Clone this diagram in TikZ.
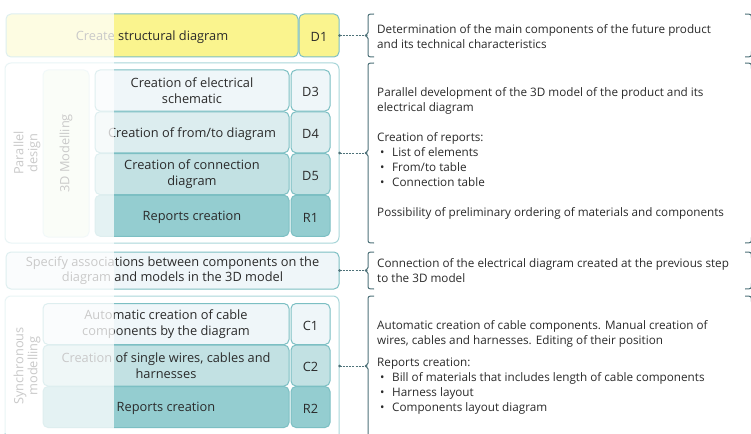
\documentclass[tikz,border=0pt]{standalone}
\usepackage{fontspec}
\setmainfont{Open Sans}
\definecolor{edge}{HTML}{7CBFC3}
\definecolor{grpedge}{HTML}{A9D6D9}
\definecolor{yel}{HTML}{FAF48E}
\definecolor{fa}{HTML}{EFF6F9}
\definecolor{fb}{HTML}{DCEDEF}
\definecolor{fc}{HTML}{C2E1E3}
\definecolor{fd}{HTML}{94CDD0}
\definecolor{grn}{HTML}{EFFAE4}
\definecolor{txt}{HTML}{2A2A2A}
\definecolor{brk}{HTML}{4F7279}
\newcommand\mybrL[3]{\draw[brkline] (374,#1) .. controls (368,#1) .. (368,{#1+5}) -- (368,{#3-3}) -- (366,#3) -- (368,{#3+3}) -- (368,{#2-5}) .. controls (368,#2) .. (374,#2);}
\newcommand\mybrR[2]{\draw[brkline] (745,#1) .. controls (751.5,#1) .. (751.5,{#1+6}) -- (751.5,{#2-6}) .. controls (751.5,#2) .. (745,#2);}
\begin{document}
\begin{tikzpicture}[x=1pt,y=-1pt,
  box/.style={draw=edge, line width=1pt, rounded corners=5pt, inner sep=0pt, text=txt, align=center, font=\fontsize{12.8}{15.5}\selectfont, execute at begin node={\rule{0pt}{12.6pt}}},
  grp/.style={draw=grpedge, line width=1pt, rounded corners=6pt, fill=white},
  lbl/.style={text=txt, align=center, rotate=90, font=\fontsize{12.8}{14}\selectfont},
  note/.style={anchor=west, align=left, text=txt, inner sep=0pt, font=\fontsize{11.7}{15}\selectfont},
  conn/.style={draw=brk, line width=0.8pt, dash pattern=on 2pt off 1.2pt},
  brkline/.style={draw=brk, line width=1pt},
  dot/.style={circle, fill=brk, inner sep=0pt, minimum size=3pt}]
\useasboundingbox (0,0) rectangle (751,433);
\begin{scope}
\clip (0,0) rectangle (751,433);
% row 1
\node[box, fill=yel, minimum width=292, minimum height=43] (d1main) at (152,35.5) {Create structural diagram};
\node[box, fill=yel, minimum width=40, minimum height=43] (d1) at (319,35.5) {D1};
% parallel design
\node[grp, minimum width=334, minimum height=180] (pgrp) at (172,153) {};
\node[lbl] (plbl) at (27,153) {Parallel\\design};
\node[box, draw=grpedge!60, fill=grn, minimum width=46, minimum height=167, execute at begin node={}] (m3d) at (66,153.5) {};
\node[lbl] (m3dl) at (66,153.5) {3D Modelling};
\node[box, fill=fa, minimum width=194, minimum height=41] (d3l) at (192,90.5) {Creation of electrical\\schematic};
\node[box, fill=fa, minimum width=39, minimum height=41] (d3) at (310.5,90.5) {D3};
\node[box, fill=fb, minimum width=194, minimum height=41] (d4l) at (192,132.25) {Creation of from/to diagram};
\node[box, fill=fb, minimum width=39, minimum height=41] (d4) at (310.5,132.25) {D4};
\node[box, fill=fc, minimum width=194, minimum height=41] (d5l) at (192,174) {Creation of connection\\diagram};
\node[box, fill=fc, minimum width=39, minimum height=41] (d5) at (310.5,174) {D5};
\node[box, fill=fd, minimum width=194, minimum height=41] (r1l) at (192,215.75) {Reports creation};
\node[box, fill=fd, minimum width=39, minimum height=41] (r1) at (310.5,215.75) {R1};
% specify
\node[box, fill=fa, minimum width=333, minimum height=37] (spec) at (172.5,270.5) {Specify associations between components on the\\diagram and models in the 3D model};
% synchronous
\node[grp, minimum width=334, minimum height=150] (sgrp) at (172,371) {};
\node[lbl] (slbl) at (27,366) {Synchronous\\modelling};
\node[box, fill=fa, minimum width=246, minimum height=41] (c1l) at (166,324) {Automatic creation of cable\\components by the diagram};
\node[box, fill=fa, minimum width=39, minimum height=41] (c1) at (310.5,324) {C1};
\node[box, fill=fc, minimum width=246, minimum height=41] (c2l) at (166,365.5) {Creation of single wires, cables and\\harnesses};
\node[box, fill=fc, minimum width=39, minimum height=41] (c2) at (310.5,365.5) {C2};
\node[box, fill=fd, minimum width=246, minimum height=41] (r2l) at (166,407) {Reports creation};
\node[box, fill=fd, minimum width=39, minimum height=41] (r2) at (310.5,407) {R2};
% fade overlay
\fill[white, fill opacity=0.75] (0,0) rectangle (114,433);
% brackets
\mybrL{14}{57}{35.5}
\mybrL{63}{243}{153}
\mybrL{252}{289}{270.5}
\mybrL{296}{445}{366}
\mybrR{14}{57}
\mybrR{63}{243}
\mybrR{252}{289}
\mybrR{296}{445}
\coordinate (b1) at (366,35.5);
\coordinate (b2) at (366,153);
\coordinate (b3) at (366,270.5);
\coordinate (b4) at (366,366);
\draw[conn] (d1.east) -- (b1);
\draw[conn] (pgrp.east) -- (b2);
\draw[conn] (spec.east) -- (b3);
\draw[conn] (sgrp.east |- b4) -- (b4);
\node[dot] at (d1.east) {};
\node[dot] at (b1) {};
\node[dot] at (pgrp.east) {};
\node[dot] at (b2) {};
\node[dot] at (spec.east) {};
\node[dot] at (b3) {};
\node[dot] at (sgrp.east |- b4) {};
\node[dot] at (b4) {};
% notes
\node[note] (n1) at (377,37) {Determination of the main components of the future product\\and its technical characteristics};
\node[note] (n2) at (377,153.5) {Parallel development of the 3D model of the product and its\\electrical diagram\\[15pt]Creation of reports:\\\hspace*{3pt}\makebox[12pt][l]{•}List of elements\\\hspace*{3pt}\makebox[12pt][l]{•}From/to table\\\hspace*{3pt}\makebox[12pt][l]{•}Connection table\\[15pt]Possibility of preliminary ordering of materials and components};
\node[note] (n3) at (377,270.5) {Connection of the electrical diagram created at the previous step\\to the 3D model};
\node[note] (n4) at (377,367.5) {Automatic creation of cable components. Manual creation of\\wires, cables and harnesses. Editing of their position\\[7pt]Reports creation:\\\hspace*{3pt}\makebox[12pt][l]{•}Bill of materials that includes length of cable components\\\hspace*{3pt}\makebox[12pt][l]{•}Harness layout\\\hspace*{3pt}\makebox[12pt][l]{•}Components layout diagram};
\end{scope}
\end{tikzpicture}
\end{document}
